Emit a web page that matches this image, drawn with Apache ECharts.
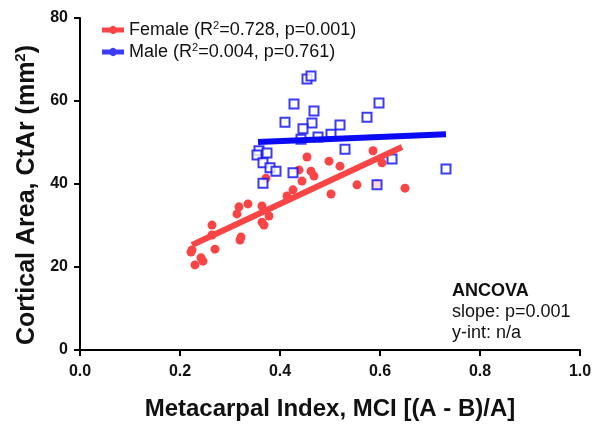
<!DOCTYPE html>
<html>
<head>
<meta charset="utf-8">
<script src="https://cdn.jsdelivr.net/npm/echarts@6/dist/echarts.min.js"></script>
<style>
  html, body { margin: 0; padding: 0; background: #fff; }
  #chart { width: 597px; height: 427px; }
</style>
</head>
<body>
<div id="chart"></div>
<script>
// values
const femaleX = [0.224, 0.222, 0.23, 0.242, 0.246, 0.27, 0.264, 0.264, 0.322, 0.32, 0.314, 0.318, 0.336, 0.364, 0.378, 0.364, 0.368, 0.414, 0.454, 0.498, 0.52, 0.438, 0.462, 0.468, 0.444, 0.426, 0.502, 0.554, 0.586, 0.604, 0.594, 0.65, 0.372];
const femaleY = [24.1, 23.6, 20.5, 22.2, 21.4, 24.3, 30.1, 27.7, 27.2, 26.5, 32.8, 34.5, 35.2, 34.7, 32.3, 30.8, 30.1, 37.1, 46.5, 45.5, 44.3, 43.4, 43.1, 41.9, 40.7, 38.6, 37.6, 39.8, 48.0, 45.1, 40.0, 39.0, 41.4];

const maleX = [0.454, 0.462, 0.428, 0.468, 0.41, 0.464, 0.446, 0.52, 0.502, 0.476, 0.442, 0.574, 0.598, 0.53, 0.358, 0.354, 0.374, 0.366, 0.38, 0.392, 0.426, 0.366, 0.624, 0.594, 0.732];
const maleY = [65.3, 66.0, 59.3, 57.6, 54.9, 54.7, 53.3, 54.2, 52.0, 51.3, 50.8, 56.1, 59.5, 48.4, 48.0, 47.0, 47.5, 45.1, 43.9, 43.1, 42.7, 40.2, 46.0, 39.8, 43.6];

const femaleFitX = [0.224, 0.644];
const femaleFitY = [25.3, 48.9];
const maleFitX = [0.356, 0.732];
const maleFitY = [50.1, 52.0];

const xTicks = ["0.0", "0.2", "0.4", "0.6", "0.8", "1.0"];
const yTicks = ["0", "20", "40", "60", "80"];

const legendText = {
  Female: "Female (R{sup|2}=0.728, p=0.001)",
  Male: "Male (R{sup|2}=0.004, p=0.761)",
};

const RED = "#f94545";
const BLUE = "#0a0af5";
const FONT = "Liberation Sans, Arial, sans-serif";
// thick bar with a dot in the middle, like the legend keys of the original
const ICON = "path://M0,1.5H7.9A4,4 0 0 1 14.1,1.5H22V6.5H14.1A4,4 0 0 1 7.9,6.5H0Z";

const zip = (xs, ys) => xs.map((x, i) => [x, ys[i]]);

const chart = echarts.init(document.getElementById("chart"));

const option = {
  backgroundColor: "#fff",
  animation: false,
  textStyle: { fontFamily: FONT },
  grid: { left: 80, right: 17, top: 18, bottom: 77 },
  legend: {
    left: 97,
    top: 15,
    orient: "vertical",
    itemGap: 3,
    itemWidth: 22,
    itemHeight: 8,
    data: [
      { name: "Female", icon: ICON, itemStyle: { color: RED, borderWidth: 0 } },
      { name: "Male", icon: ICON, itemStyle: { color: BLUE, borderWidth: 0 } },
    ],
    formatter: (name) => legendText[name],
    textStyle: {
      fontFamily: FONT,
      fontSize: 18,
      color: "#111",
      rich: {
        sup: { fontSize: 11, verticalAlign: "top", padding: [0, 0, 9, 0] },
      },
    },
  },
  xAxis: {
    type: "value",
    min: 0,
    max: 1,
    interval: 0.2,
    name: "Metacarpal Index, MCI [(A - B)/A]",
    nameLocation: "middle",
    nameGap: 47,
    nameTextStyle: { fontFamily: FONT, fontSize: 24, fontWeight: "bold", color: "#111" },
    axisLine: { lineStyle: { color: "#000", width: 2 } },
    axisTick: { length: 6, lineStyle: { color: "#000", width: 2 } },
    axisLabel: {
      fontFamily: FONT,
      fontSize: 16,
      fontWeight: "bold",
      color: "#111",
      margin: 14,
      formatter: (v) => xTicks[Math.round(v / 0.2)],
    },
    splitLine: { show: false },
  },
  yAxis: {
    type: "value",
    min: 0,
    max: 80,
    interval: 20,
    name: "Cortical Area, CtAr (mm{sup|2})",
    nameLocation: "middle",
    nameGap: 30,
    nameTextStyle: {
      fontFamily: FONT,
      fontSize: 25,
      fontWeight: "bold",
      color: "#111",
      padding: [0, 22, 0, 0],
      rich: { sup: { fontSize: 15, fontWeight: "bold", verticalAlign: "top", padding: [0, 0, 11, 0] } },
    },
    axisLine: { lineStyle: { color: "#000", width: 2 } },
    axisTick: { length: 6, lineStyle: { color: "#000", width: 2 } },
    axisLabel: {
      fontFamily: FONT,
      fontSize: 16,
      fontWeight: "bold",
      color: "#111",
      margin: 12,
      formatter: (v) => yTicks[Math.round(v / 20)],
    },
    splitLine: { show: false },
  },
  series: [
    {
      name: "Female",
      type: "scatter",
      data: zip(femaleX, femaleY),
      symbol: "circle",
      symbolSize: 9,
      itemStyle: { color: RED, opacity: 1 },
      z: 3,
    },
    {
      name: "Male",
      type: "scatter",
      data: zip(maleX, maleY),
      symbol: "rect",
      symbolSize: 9,
      itemStyle: { color: "#fff", borderColor: BLUE, borderWidth: 2 },
      z: 4,
    },
    {
      name: "Female fit",
      type: "line",
      data: zip(femaleFitX, femaleFitY),
      symbol: "none",
      lineStyle: { color: RED, width: 6 },
      z: 5,
    },
    {
      name: "Male fit",
      type: "line",
      data: zip(maleFitX, maleFitY),
      symbol: "none",
      lineStyle: { color: BLUE, width: 6 },
      z: 5,
    },
  ],
  graphic: [
    {
      type: "text",
      left: 452,
      top: 281,
      style: {
        text: "{b|ANCOVA}\nslope: p=0.001\ny-int: n/a",
        fontFamily: FONT,
        fontSize: 18,
        lineHeight: 21,
        fill: "#111",
        rich: { b: { fontFamily: FONT, fontSize: 18, fontWeight: "bold", lineHeight: 21, fill: "#111" } },
      },
    },
  ],
};

chart.setOption(option);
</script>
</body>
</html>
